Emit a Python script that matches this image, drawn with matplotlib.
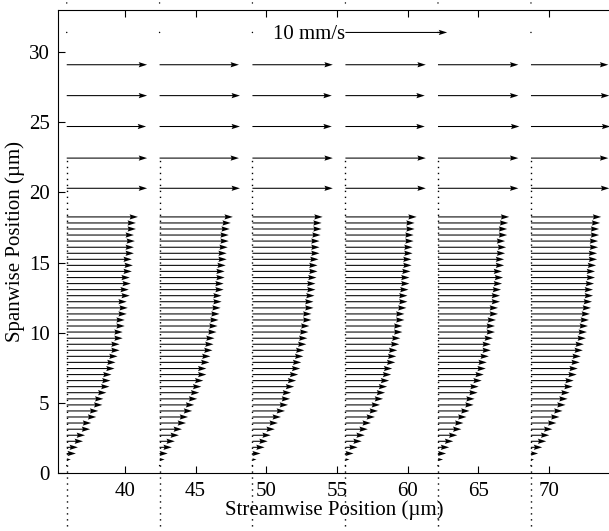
import numpy as np
import matplotlib
matplotlib.use('Agg')
from matplotlib import pyplot as plt

plt.rcParams['font.family'] = ['Liberation Serif', 'DejaVu Serif']

# streamwise position of each profile (um)
x_origin = [35.88, 42.45, 49.02, 55.60, 62.15, 68.73]

# fine PIV rows near the wall (um)
y_fine = [0.55, 0.98, 1.41, 1.85, 2.28, 2.71, 3.14, 3.58, 4.01, 4.44,
          4.87, 5.30, 5.74, 6.17, 6.60, 7.03, 7.46, 7.90, 8.33, 8.76,
          9.19, 9.62, 10.06, 10.49, 10.92, 11.35, 11.78, 12.22, 12.65, 13.08,
          13.51, 13.94, 14.38, 14.81, 15.24, 15.67, 16.10, 16.54, 16.97, 17.40,
          17.83, 18.26]

# streamwise velocity (mm/s) for each profile
u1 = [0.1, 0.4, 0.9, 1.1, 1.6, 1.8, 2.3, 2.4, 2.9, 3.1, 3.5, 3.6, 3.9, 4.2,
      4.3, 4.4, 4.7, 4.8, 5.0, 5.2, 5.2, 5.5, 5.5, 5.7, 5.7, 5.9, 6.0, 5.9,
      6.2, 6.1, 6.3, 6.2, 6.4, 6.5, 6.4, 6.6, 6.6, 6.7, 6.6, 6.8, 6.8, 7.0]
u2 = [0.1, 0.5, 0.8, 1.2, 1.5, 1.9, 2.2, 2.6, 2.8, 3.2, 3.4, 3.7, 3.9, 4.1,
      4.3, 4.6, 4.6, 4.9, 5.0, 5.2, 5.3, 5.4, 5.6, 5.7, 5.8, 5.9, 6.0, 6.1,
      6.1, 6.3, 6.3, 6.4, 6.4, 6.5, 6.6, 6.6, 6.7, 6.8, 6.8, 6.9, 7.0, 7.2]
u3 = [0.0, 0.4, 0.8, 1.2, 1.5, 1.8, 2.2, 2.5, 2.8, 3.2, 3.5, 3.7, 3.8, 4.1,
      4.3, 4.5, 4.7, 4.8, 5.0, 5.1, 5.3, 5.4, 5.5, 5.6, 5.8, 5.8, 6.0, 6.0,
      6.1, 6.2, 6.2, 6.3, 6.4, 6.4, 6.5, 6.6, 6.6, 6.6, 6.7, 6.8, 6.8, 6.9]
u4 = [0.1, 0.4, 0.8, 1.2, 1.6, 1.9, 2.2, 2.5, 2.9, 3.2, 3.4, 3.7, 3.9, 4.1,
      4.3, 4.5, 4.6, 4.9, 5.0, 5.1, 5.3, 5.4, 5.6, 5.6, 5.8, 5.8, 6.0, 6.1,
      6.1, 6.2, 6.3, 6.3, 6.4, 6.5, 6.5, 6.6, 6.6, 6.7, 6.7, 6.8, 6.8, 7.0]
u5 = [0.1, 0.5, 0.8, 1.1, 1.5, 1.9, 2.3, 2.5, 2.8, 3.1, 3.5, 3.6, 3.9, 4.0,
      4.3, 4.5, 4.7, 4.8, 5.0, 5.2, 5.2, 5.4, 5.6, 5.6, 5.7, 5.9, 5.9, 6.1,
      6.1, 6.2, 6.3, 6.4, 6.3, 6.5, 6.5, 6.6, 6.7, 6.6, 6.8, 6.8, 6.9, 7.0]
u6 = [0.0, 0.3, 0.7, 1.1, 1.5, 1.8, 2.1, 2.5, 2.8, 3.1, 3.4, 3.6, 3.8, 4.1,
      4.2, 4.5, 4.6, 4.8, 4.9, 5.1, 5.2, 5.4, 5.5, 5.6, 5.7, 5.8, 5.9, 6.0,
      6.1, 6.1, 6.2, 6.3, 6.3, 6.4, 6.5, 6.5, 6.6, 6.6, 6.7, 6.7, 6.8, 6.9]
u_fine = [u1, u2, u3, u4, u5, u6]

# coarse rows above the profiles (um) and their velocity (mm/s)
y_coarse = [20.30, 22.45, 24.70, 26.90, 29.10]
u_coarse = [[7.9, 7.9, 7.8, 7.9, 7.9],
            [7.9, 7.8, 7.9, 7.9, 7.8],
            [7.9, 7.9, 7.8, 7.8, 7.9],
            [7.9, 7.9, 7.8, 7.8, 7.9],
            [7.9, 7.9, 8.0, 7.9, 7.9],
            [7.7, 7.6, 7.8, 7.7, 7.6]]

# empty rows on top; profile 4 carries the 10 mm/s reference vector
y_top = [31.40, 33.50]
u_top = [[0, 0], [0, 0], [0, 0], [10, 0], [0, 0], [0, 0]]

scale = 1.389  # mm/s per um of arrow

X, Y, U = [], [], []
for i, x0 in enumerate(x_origin):
    for yy, uu in zip(y_fine + y_coarse + y_top,
                      u_fine[i] + u_coarse[i] + u_top[i]):
        X.append(x0)
        Y.append(yy)
        U.append(uu)
X, Y, U = np.array(X), np.array(Y), np.array(U)

fig = plt.figure(figsize=(6.09, 5.31), dpi=100)
ax = fig.add_axes([0.0952, 0.1087, 0.9064, 0.8725])

ax.vlines(x_origin, -4.4, 22.6, colors='k', linestyles=(0, (1, 3.3)),
          linewidth=1.0, clip_on=False)

ax.quiver(X, Y, U, np.zeros_like(U), angles='xy', scale_units='xy',
          scale=scale, width=0.0019, headwidth=5, headlength=8,
          headaxislength=7, minlength=1.5, color='k', clip_on=False)

ax.text(x_origin[3] - 0.05, 31.25, '10 mm/s', ha='right', va='center',
        fontsize=15)

ax.set_xlim(35.26, 74.32)
ax.set_ylim(0, 33)
ax.set_xticks([40, 45, 50, 55, 60, 65, 70])
ax.set_yticks([0, 5, 10, 15, 20, 25, 30])
ax.tick_params(direction='in', length=5, width=0.8, labelsize=15,
               top=True, right=False, pad=6)
for s in ax.spines.values():
    s.set_linewidth(0.8)

ax.set_xlabel('Streamwise Position (µm)', fontsize=15, labelpad=0)
ax.set_ylabel('Spanwise Position (µm)', fontsize=15, labelpad=3)

fig.savefig('out.png', dpi=100)
